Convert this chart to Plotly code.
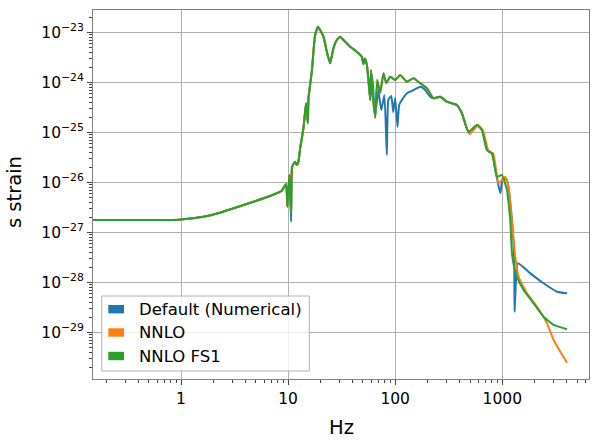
import plotly.graph_objects as go

# ---------------- data (Hz, strain) ----------------
freq_low = [0.15, 0.3, 0.5, 0.79, 1.0, 1.616, 2.315, 3.316, 4.74, 6.79, 8.73, 9.58, 9.85, 10.28]
strain_low = [1.76e-27, 1.76e-27, 1.76e-27, 1.76e-27, 1.80e-27, 2.05e-27, 2.47e-27, 3.16e-27,
              4.09e-27, 5.32e-27, 6.79e-27, 9.25e-27, 3.25e-27, 1.40e-26]

freq_dip = [10.67]
strain_dip_default = [1.63e-27]
strain_dip_nnlo = [2.40e-27]
strain_dip_fs1 = [2.40e-27]

freq_rise = [10.9, 11.6, 12.06, 12.49, 12.95, 13.43, 13.9, 14.42, 14.73, 15.28, 15.49,
             16.05, 16.65, 17.24, 17.88, 18.95, 19.91, 21.38, 23.0, 24.69, 26.5, 28.5,
             30.6, 32.9, 37.96, 43.85, 48.8, 50.5, 52.0, 54.4]
strain_rise = [2.05e-26, 2.58e-26, 2.22e-26, 2.58e-26, 4.79e-26, 7.59e-26, 1.20e-25,
               2.58e-25, 3.80e-25, 1.51e-25, 4.79e-25, 8.83e-25, 1.63e-24, 4.09e-24,
               8.83e-24, 1.29e-23, 1.11e-23, 8.17e-24, 4.09e-24, 2.40e-24, 4.79e-24,
               7.02e-24, 8.17e-24, 7.02e-24, 5.15e-24, 4.09e-24, 3.25e-24, 2.3e-24,
               3.0e-24, 2.22e-24]

freq_default_hi = [56.3, 58.4, 61.0, 65.0, 69.3, 74.2, 79.3, 83.6, 86.3, 92.0, 95.9, 100,
                   105, 108.9, 115.5, 128.6, 148.3, 171.3, 190.6, 212, 228, 263.4, 304,
                   377, 420, 484, 580, 646, 719, 801, 880, 958, 1010, 1107, 1232, 1295,
                   1303, 1402, 1827, 2432, 3245, 4024]
strain_default_hi = [1.11e-24, 4.43e-25, 1.40e-24, 1.93e-25, 7.02e-25, 2.79e-25, 5.57e-25,
                     3.52e-26, 4.43e-25, 5.32e-25, 2.55e-25, 4.85e-25, 1.28e-25, 3.52e-25,
                     4.43e-25, 6.03e-25, 7.02e-25, 8.17e-25, 7.02e-25, 5.15e-25, 4.79e-25,
                     5.15e-25, 4.09e-25, 3.52e-25, 2.40e-25, 1.01e-25, 1.40e-25, 1.11e-25,
                     4.43e-26, 3.80e-26, 1.40e-26, 6.03e-27, 1.20e-26, 1.11e-26, 1.76e-27,
                     2.58e-28, 2.58e-29, 2.40e-28, 1.51e-28, 9.55e-29, 6.49e-29, 6.03e-29]

freq_fs1_hi = [56.3, 58.4, 59.5, 61.6, 65.0, 67.9, 72.4, 77.7, 82.4, 89.8, 100, 111.4,
               128.6, 148.3, 171.3, 197.8, 228, 263.4, 304, 377, 420, 484, 580, 646, 719,
               801, 892, 993, 1107, 1146, 1188, 1232, 1290, 1371, 1582, 1961, 2432, 3017,
               4024]
strain_fs1_hi = [1.11e-24, 4.43e-25, 1.76e-24, 5.57e-25, 2.05e-25, 1.11e-24, 6.11e-25,
                 1.51e-24, 9.68e-25, 1.29e-24, 1.11e-24, 1.40e-24, 1.03e-24, 1.20e-24,
                 9.55e-25, 7.59e-25, 4.79e-25, 5.15e-25, 4.09e-25, 3.52e-25, 2.40e-25,
                 1.01e-25, 1.40e-25, 1.11e-25, 4.43e-26, 3.80e-26, 1.29e-26, 1.40e-26,
                 7.02e-27, 3.80e-27, 1.76e-27, 3.80e-28, 2.05e-28, 1.29e-28, 7.02e-29,
                 3.80e-29, 2.05e-29, 1.40e-29, 1.15e-29]

freq_nnlo_hi = [56.3, 58.4, 59.5, 61.6, 65.0, 67.9, 72.4, 77.7, 82.4, 89.8, 100, 111.4,
                128.6, 148.3, 171.3, 197.8, 228, 263.4, 304, 377, 420, 495, 597, 664, 748,
                824, 923, 1067, 1146, 1188, 1323, 1420, 1703, 2110, 2617, 3017, 3483, 4024]
strain_nnlo_hi = [1.11e-24, 4.43e-25, 1.76e-24, 5.57e-25, 2.05e-25, 1.11e-24, 6.11e-25,
                  1.51e-24, 9.68e-25, 1.29e-24, 1.11e-24, 1.40e-24, 1.03e-24, 1.20e-24,
                  9.55e-25, 7.59e-25, 4.79e-25, 5.15e-25, 4.09e-25, 3.52e-25, 2.40e-25,
                  9.12e-26, 1.40e-25, 1.06e-25, 4.04e-26, 3.80e-26, 9.55e-27, 1.29e-26,
                  7.69e-27, 3.80e-27, 3.25e-28, 1.29e-28, 6.03e-29, 3.25e-29, 1.51e-29,
                  7.02e-30, 4.09e-30, 2.47e-30]

series_names = ["Default (Numerical)", "NNLO", "NNLO FS1"]
series_colors = ["#1f77b4", "#ff7f0e", "#2ca02c"]

x_tick_vals = [1, 10, 100, 1000]
x_tick_text = ["1", "10", "100", "1000"]
y_exps = [-29, -28, -27, -26, -25, -24, -23]
x_title = "Hz"
y_title = "s strain"

# ---------------- assemble series ----------------
series_x = [
    freq_low + freq_dip + freq_rise + freq_default_hi,
    freq_low + freq_dip + freq_rise + freq_nnlo_hi,
    freq_low + freq_dip + freq_rise + freq_fs1_hi,
]
series_y = [
    strain_low + strain_dip_default + strain_rise + strain_default_hi,
    strain_low + strain_dip_nnlo + strain_rise + strain_nnlo_hi,
    strain_low + strain_dip_fs1 + strain_rise + strain_fs1_hi,
]

fig = go.Figure()
for name, col, xs, ys in zip(series_names, series_colors, series_x, series_y):
    fig.add_trace(go.Scatter(x=xs, y=ys, mode="lines", name=name,
                             line=dict(color=col, width=2, shape="spline", smoothing=0.4),
                             showlegend=False))

FONT = "DejaVu Sans"
x_minor = [k * 10.0 ** d for d in range(-1, 4) for k in range(2, 10)]
y_minor = [k * 10.0 ** d for d in range(-31, -22) for k in range(2, 10)]

fig.update_xaxes(
    type="log", range=[-0.822, 3.81], automargin=False,
    tickvals=x_tick_vals, ticktext=x_tick_text,
    ticks="outside", ticklen=5, tickwidth=1, tickcolor="#444",
    showline=True, linecolor="#808080", linewidth=1, mirror=True,
    showgrid=True, gridcolor="#b0b0b0", gridwidth=1,
    zeroline=False,
    tickfont=dict(family=FONT, size=15.5, color="#000"),
    minor=dict(tickvals=x_minor, ticks="outside", ticklen=3, tickwidth=1,
               tickcolor="#444", showgrid=False),
)
fig.update_yaxes(
    type="log", range=[-29.934, -22.554], automargin=False,
    tickvals=[10.0 ** e for e in y_exps],
    ticktext=["10<sup>\u2212%d</sup>" % (-e) for e in y_exps],
    ticks="outside", ticklen=5, tickwidth=1, tickcolor="#444",
    showline=True, linecolor="#808080", linewidth=1, mirror=True,
    showgrid=True, gridcolor="#b0b0b0", gridwidth=1,
    zeroline=False,
    tickfont=dict(family=FONT, size=15.5, color="#000"),
    minor=dict(tickvals=y_minor, ticks="outside", ticklen=3, tickwidth=1,
               tickcolor="#444", showgrid=False),
)

# ---------------- matplotlib-style legend (patches) + axis titles ----------------
W, H = 496.0, 369.0
L = 93.0

def px(x):
    return (x - L) / W

def py(y):
    return (379.0 - y) / H

shapes = [dict(type="rect", xref="paper", yref="paper",
               x0=px(101.7), x1=px(309.3), y0=py(371), y1=py(296),
               fillcolor="rgba(255,255,255,0.8)",
               line=dict(color="#b0b0b0", width=1), layer="above")]
annotations = [
    dict(xref="paper", yref="paper", x=px(341), y=py(427), xanchor="center",
         yanchor="middle", text=x_title, showarrow=False,
         font=dict(family=FONT, size=19.5, color="#000")),
    dict(xref="paper", yref="paper", x=px(14), y=py(192), xanchor="center",
         yanchor="middle", text=y_title, showarrow=False, textangle=-90,
         font=dict(family=FONT, size=19.5, color="#000")),
]
row_centers = [309.2, 332.5, 356.0]
for name, col, yc in zip(series_names, series_colors, row_centers):
    shapes.append(dict(type="rect", xref="paper", yref="paper",
                       x0=px(108.3), x1=px(124.0), y0=py(yc + 4.2), y1=py(yc - 4.2),
                       fillcolor=col, line=dict(width=0), layer="above"))
    annotations.append(dict(xref="paper", yref="paper", x=px(137.0), y=py(yc),
                            xanchor="left", yanchor="middle", text=name, showarrow=False,
                            font=dict(family=FONT, size=16.5, color="#000")))

fig.update_layout(
    width=598, height=441,
    margin=dict(l=93, r=9, t=10, b=62),
    paper_bgcolor="white", plot_bgcolor="white",
    font=dict(family=FONT),
    shapes=shapes, annotations=annotations,
    showlegend=False,
)

fig.write_html("out.html", config={"displayModeBar": False},
               post_script="document.body.style.margin='0';document.body.style.padding='0';")
